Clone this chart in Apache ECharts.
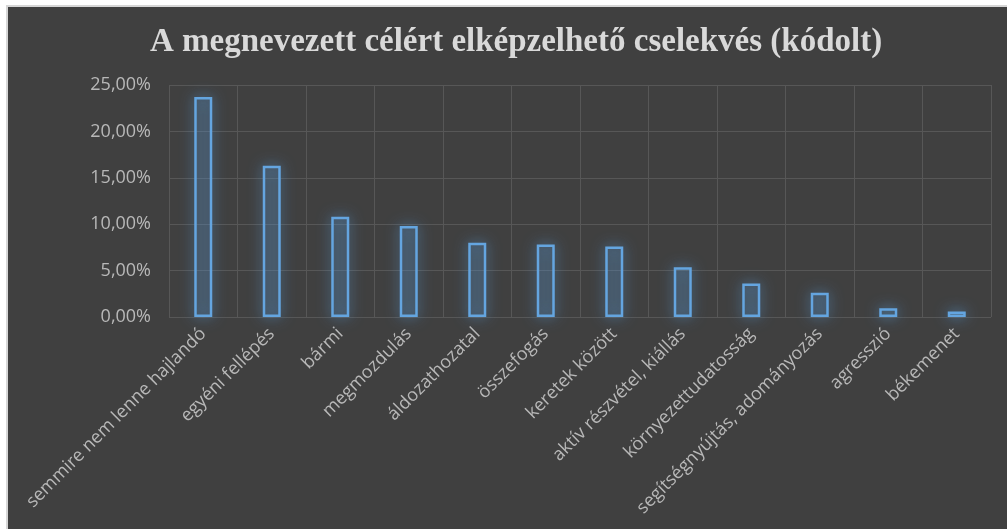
<!DOCTYPE html>
<html>
<head>
    <meta charset="UTF-8">
    <title>A megnevezett célért elképzelhető cselekvés (kódolt)</title>
    <script src="https://cdn.jsdelivr.net/npm/echarts@6/dist/echarts.min.js"></script>
    <style type="text/css">
        html, body {
            height: 100%;
            width: 100%;
            margin: 0;
            padding: 0;
            background: #ffffff;
            overflow: hidden
        }
        #main {
            position: absolute;
            left: 6px;
            top: 5px;
            right: 0;
            bottom: 0;
            border-left: 2px solid #d6d6d6;
            border-top: 2px solid #d6d6d6;
            background: #404040
        }
    </style>
</head>
<body>
<div id="main"></div>
<script type="text/javascript">
    // kategóriák és értékek (%)
    var categories = ['semmire nem lenne hajlandó', 'egyéni fellépés', 'bármi', 'megmozdulás',
        'áldozathozatal', 'összefogás', 'keretek között', 'aktív részvétel, kiállás',
        'környezettudatosság', 'segítségnyújtás, adományozás', 'agresszió', 'békemenet'];
    var values = [23.7, 16.3, 10.8, 9.8, 8.0, 7.8, 7.6, 5.35, 3.6, 2.6, 0.95, 0.6];
    var yTicks = [0, 5, 10, 15, 20, 25];

    var mycharts = echarts.init(document.getElementById('main'));
    var option = {
        backgroundColor: '#404040',
        animation: false,
        title: {
            text: 'A megnevezett célért elképzelhető cselekvés (kódolt)',
            left: 137,
            top: 14,
            textStyle: {
                color: '#d9d9d9',
                fontFamily: 'Liberation Serif',
                fontWeight: 'bold',
                fontSize: 33
            }
        },
        grid: {
            left: 161,
            right: 16,
            top: 78,
            bottom: 212
        },
        xAxis: {
            type: 'category',
            data: categories,
            axisLine: {show: false},
            axisTick: {show: false},
            splitLine: {
                show: true,
                lineStyle: {color: '#575757', width: 1}
            },
            axisLabel: {
                interval: 0,
                rotate: 45,
                margin: 14,
                color: '#b8b8b8',
                fontFamily: 'Open Sans',
                fontSize: 18
            }
        },
        yAxis: {
            type: 'value',
            min: yTicks[0],
            max: yTicks[yTicks.length - 1],
            interval: 5,
            axisLine: {show: false},
            axisTick: {show: false},
            splitLine: {
                lineStyle: {color: '#575757', width: 1}
            },
            axisLabel: {
                margin: 18,
                color: '#b8b8b8',
                fontFamily: 'Open Sans',
                fontSize: 18,
                formatter: function (v) {
                    return v.toFixed(2).replace('.', ',') + '%';
                }
            }
        },
        series: [{
            type: 'bar',
            data: values,
            barWidth: 18,
            itemStyle: {
                color: 'rgba(91,155,213,0.12)',
                borderColor: '#64a5e0',
                borderWidth: 2.5,
                shadowBlur: 14,
                shadowColor: 'rgba(91,155,213,0.9)'
            }
        }]
    };
    mycharts.setOption(option);
</script>
</body>
</html>
